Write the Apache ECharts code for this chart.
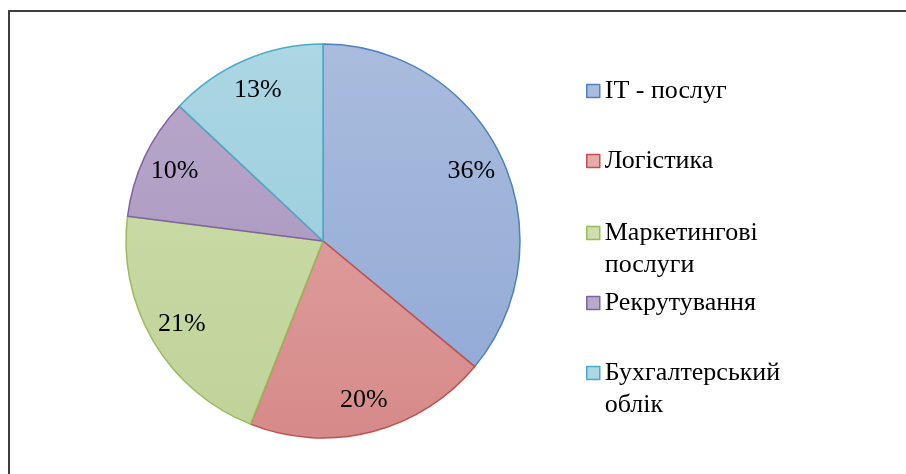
<!DOCTYPE html>
<html>
<head>
<meta charset="utf-8">
<script src="https://cdn.jsdelivr.net/npm/echarts@6/dist/echarts.min.js"></script>
<style>
  html, body { margin: 0; padding: 0; background: #fff; }
  #chart { width: 906px; height: 474px; }
</style>
</head>
<body>
<div id="chart"></div>
<script>
// Categories and their shares (percent)
const categories = ['IT - послуг', 'Логістика', 'Маркетингові\nпослуги', 'Рекрутування', 'Бухгалтерський\nоблік'];
const shares = [36, 20, 21, 10, 13];

// Palette: [top of gradient, bottom of gradient, outline]
const fillTop = ['#aabcdd', '#e3abaa', '#cfdeae', '#b9a9cb', '#acd7e4'];
const fillBottom = ['#8ea8d5', '#d68a89', '#bfd398', '#a690bd', '#92c7d9'];
const outline = ['#4f81bd', '#c0504d', '#9bbb59', '#8064a2', '#4bacc6'];

const FONT = "'Liberation Serif', 'Times New Roman', serif";
const cx = 323, cy = 241, R = 197;

function grad(i) {
  return {
    type: 'linear', global: true,
    x: 0, y: cy - R, x2: 0, y2: cy + R,
    colorStops: [
      { offset: 0, color: fillTop[i] },
      { offset: 1, color: fillBottom[i] }
    ]
  };
}

const sliceData = categories.map((name, i) => ({
  name,
  value: shares[i],
  itemStyle: { color: grad(i), borderColor: outline[i], borderWidth: 1.5 }
}));

const labelData = categories.map((name, i) => ({ name, value: shares[i] }));

// One legend block per entry, stacked 70px apart.
// Two-line names get a blank leading line so the icon sits beside the first line.
const iconCenters = [91, 161, 233, 303, 373];
const legends = categories.map((name, i) => {
  const twoLine = name.indexOf('\n') >= 0;
  return {
    orient: 'vertical',
    left: 586,
    top: twoLine ? iconCenters[i] - 48 : iconCenters[i] - 16,
    padding: 0,
    itemWidth: 13,
    itemHeight: 13,
    icon: 'rect',
    selectedMode: false,
    formatter: n => (twoLine ? '\n' + n : n),
    data: [{
      name,
      itemStyle: { color: fillTop[i], borderColor: outline[i], borderWidth: 1.5 }
    }],
    textStyle: { fontFamily: FONT, fontSize: 26, color: '#000', lineHeight: 32 }
  };
});

const chart = echarts.init(document.getElementById('chart'), null, { renderer: 'canvas' });
chart.setOption({
  animation: false,
  backgroundColor: '#fff',
  legend: legends,
  graphic: [{
    type: 'rect',
    shape: { x: 9, y: 11, width: 1000, height: 1000 },
    style: { fill: 'none', stroke: '#3f3f3f', lineWidth: 2 },
    silent: true, z: 100
  }],
  series: [
    {
      type: 'pie',
      center: [cx, cy],
      radius: [0, R],
      startAngle: 90,
      clockwise: true,
      avoidLabelOverlap: false,
      label: { show: false },
      labelLine: { show: false },
      emphasis: { disabled: true },
      data: sliceData
    },
    {
      // ring used only to place the percentage labels at ~0.8 of the radius
      type: 'pie',
      center: [cx, cy],
      radius: [124, 198],
      startAngle: 90,
      clockwise: true,
      silent: true,
      legendHoverLink: false,
      avoidLabelOverlap: false,
      itemStyle: { color: 'rgba(0,0,0,0)', borderWidth: 0 },
      label: {
        show: true, position: 'inside',
        formatter: p => p.value + '%',
        fontFamily: FONT, fontSize: 26, color: '#000'
      },
      labelLine: { show: false },
      emphasis: { disabled: true },
      data: labelData
    }
  ]
});
</script>
</body>
</html>
